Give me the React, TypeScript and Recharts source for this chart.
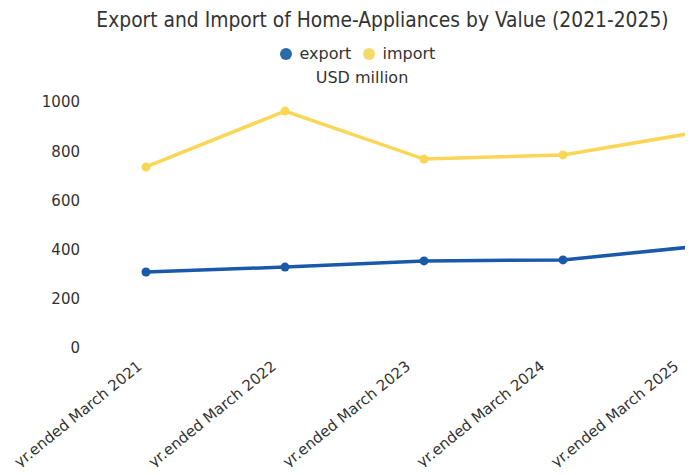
import React from 'react';
import { LineChart, Line, XAxis, YAxis } from 'recharts';

const title = 'Export and Import of Home-Appliances by Value (2021-2025)';
const unitLabel = 'USD million';
const years = [
  'yr.ended March 2021',
  'yr.ended March 2022',
  'yr.ended March 2023',
  'yr.ended March 2024',
  'yr.ended March 2025',
];
const exportValues = [309, 329, 354, 358, 415];
const importValues = [736, 963, 768, 785, 880];
const yTicks = [0, 200, 400, 600, 800, 1000];

const series = [
  { key: 'export', name: 'export', color: '#1a59aa', legendColor: '#2c69a7' },
  { key: 'import', name: 'import', color: '#f9d655', legendColor: '#f4da68' },
];

const data = years.map((year, i) => ({
  year,
  export: exportValues[i],
  import: importValues[i],
}));

const FONT = '"DejaVu Sans", Verdana, sans-serif';
const TEXT = '#333333';

const XTick = (props: any) => {
  const { x, y, payload, index } = props;
  const i = typeof index === 'number' ? index : payload.index ?? 0;
  const tx = x - 3 - i * 4.8;
  return (
    <text
      transform={`translate(${tx}, ${y + 12}) rotate(-39)`}
      textAnchor="end"
      fontFamily={FONT}
      fontSize={15}
      fill={TEXT}
    >
      {payload.value}
    </text>
  );
};

export default function App() {
  return (
    <div
      style={{
        position: 'relative',
        width: 685,
        height: 467,
        marginBottom: -8,
        overflow: 'hidden',
      }}
    >
      <div
        style={{
          position: 'absolute',
          left: 0,
          top: 0,
          width: 749,
          textAlign: 'center',
          fontFamily: '"DejaVu Sans Condensed", "DejaVu Sans", sans-serif',
          fontStretch: 'condensed',
          fontSize: 20.8,
          lineHeight: '24px',
          color: TEXT,
          whiteSpace: 'nowrap',
        }}
      >
        {title}
      </div>
      <LineChart
        width={704}
        height={467}
        data={data}
        margin={{ top: 94, right: 10, left: 0, bottom: 0 }}
      >
        <XAxis
          dataKey="year"
          padding={{ left: 58, right: 0 }}
          axisLine={false}
          tickLine={false}
          interval={0}
          height={127}
          tick={<XTick />}
        />
        <YAxis
          domain={[0, 1000]}
          ticks={yTicks}
          width={80}
          axisLine={false}
          tickLine={false}
          tick={{ fontFamily: FONT, fontSize: 15, fill: TEXT }}
        />
        {series.map((s) => (
          <Line
            key={s.key}
            type="linear"
            dataKey={s.key}
            name={s.name}
            stroke={s.color}
            strokeWidth={3.5}
            dot={{ r: 4.5, fill: s.color, stroke: s.color, strokeWidth: 0 }}
            activeDot={false}
            isAnimationActive={false}
          />
        ))}
      </LineChart>
      <svg
        width={685}
        height={90}
        style={{ position: 'absolute', left: 0, top: 0, pointerEvents: 'none' }}
      >
        {series.map((s, i) => {
          const cx = i === 0 ? 278 : 361;
          return (
            <g key={s.key}>
              <circle cx={cx} cy={46} r={6} fill={s.legendColor} />
              <text x={cx + 13.5} y={51} fontFamily={FONT} fontSize={16} fill={TEXT}>
                {s.name}
              </text>
            </g>
          );
        })}
        <text x={354} y={75} textAnchor="middle" fontFamily={FONT} fontSize={16} fill={TEXT}>
          {unitLabel}
        </text>
      </svg>
    </div>
  );
}
